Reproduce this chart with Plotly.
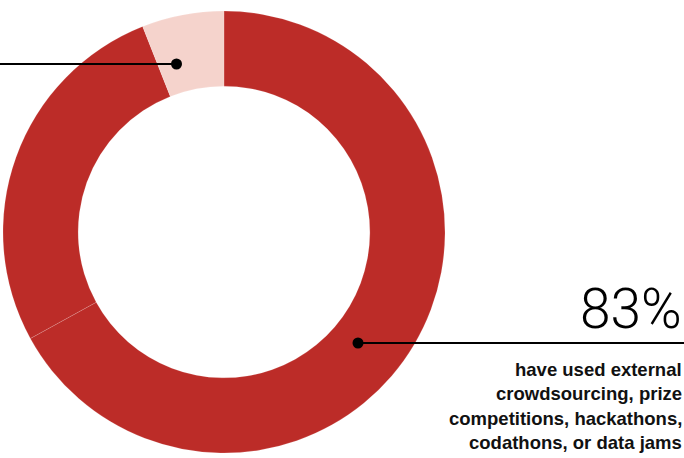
import plotly.graph_objects as go

# Data
segments = ["Used (group A)", "Used (group B)", "Other"]
shares = [67, 27, 6]
seg_colors = ["#BC2C28", "#BC2C28", "#F5D3CC"]

headline = "83%"
caption_lines = ["have used external", "crowdsourcing, prize",
                 "competitions, hackathons,", "codathons, or data jams"]

W, H = 684, 458
cx, cy, R = 224, 232, 221

fig = go.Figure()
fig.add_trace(go.Pie(
    labels=segments, values=shares, sort=False, direction="clockwise",
    rotation=0, hole=0.66, textinfo="none", hoverinfo="skip",
    marker=dict(colors=seg_colors, line=dict(color="rgba(255,255,255,0.25)", width=0.6)),
    domain=dict(x=[(cx - R) / W, (cx + R) / W], y=[(H - cy - R) / H, (H - cy + R) / H]),
    showlegend=False,
))

# invisible cartesian axes in pixel coordinates for leader lines / text
fig.add_trace(go.Scatter(x=[0, W], y=[0, H], mode="markers", marker=dict(opacity=0),
                         hoverinfo="skip", showlegend=False))

shapes = []
# left leader
shapes.append(dict(type="line", x0=0, x1=176, y0=64, y1=64, xref="x", yref="y",
                   line=dict(color="black", width=2.2)))
shapes.append(dict(type="circle", x0=171, x1=182, y0=58.5, y1=69.5, xref="x", yref="y",
                   fillcolor="black", line=dict(width=0)))
# right leader
shapes.append(dict(type="line", x0=358, x1=684, y0=343, y1=343, xref="x", yref="y",
                   line=dict(color="black", width=2.2)))
shapes.append(dict(type="circle", x0=352.5, x1=363.5, y0=337.5, y1=348.5, xref="x", yref="y",
                   fillcolor="black", line=dict(width=0)))

annotations = [dict(x=684, y=309, xref="x", yref="y", text=headline, showarrow=False,
                    xanchor="right", yanchor="middle",
                    font=dict(family="Roboto", size=55, color="black", weight=300))]
for i, line in enumerate(caption_lines):
    annotations.append(dict(x=684, y=369 + i * 24.5, xref="x", yref="y", text=line,
                            showarrow=False, xanchor="right", yanchor="middle",
                            font=dict(family="Liberation Sans", size=18.5, color="#111111", weight="bold")))

fig.update_layout(
    width=W, height=H, margin=dict(l=0, r=0, t=0, b=0),
    paper_bgcolor="white", plot_bgcolor="white",
    xaxis=dict(range=[0, W], visible=False, fixedrange=True),
    yaxis=dict(range=[H, 0], visible=False, fixedrange=True),
    shapes=shapes, annotations=annotations,
)

fig.write_html("out.html")
